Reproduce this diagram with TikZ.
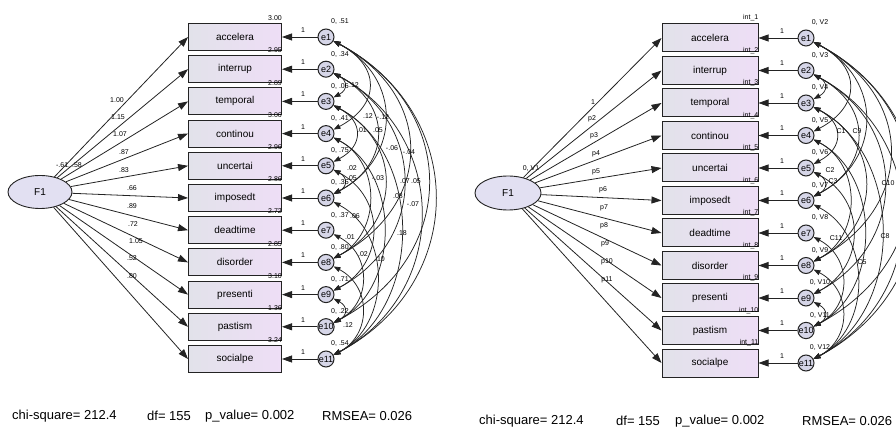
\documentclass[tikz,border=0pt]{standalone}
\usepackage{fontspec}
\setmainfont{Liberation Sans}
\usetikzlibrary{shapes.geometric,arrows.meta}
\definecolor{line}{RGB}{35,35,35}
\definecolor{boxl}{RGB}{226,226,234}
\definecolor{boxr}{RGB}{238,222,246}
\definecolor{latfill}{RGB}{226,224,242}
\definecolor{errfill}{RGB}{214,214,232}
\begin{document}
\begin{tikzpicture}[x=1pt,y=-1pt]
\tikzstyle{every node}+=[inner sep=0pt]
\tikzstyle{lat}=[draw=line,ellipse,fill=latfill,minimum width=64pt,minimum height=33pt,line width=0.9pt,font=\fontsize{10}{12}\selectfont]
\tikzstyle{obs}=[draw=line,rectangle,left color=boxl,right color=boxr,minimum width=93pt,minimum height=27pt,line width=1pt,font=\fontsize{10}{12}\selectfont]
\tikzstyle{err}=[draw=line,circle,fill=errfill,minimum size=16pt,line width=1pt,font=\fontsize{9}{10}\selectfont]
\tikzstyle{lbl}=[font=\fontsize{7}{8}\selectfont]
\tikzstyle{fitline}=[anchor=west,font=\fontsize{13}{15}\selectfont]
\tikzstyle{load}=[draw=line,line width=0.8pt,-{Triangle[length=10pt,width=7pt]}]
\tikzstyle{cov}=[draw=line,line width=0.75pt,{Triangle[length=7pt,width=5pt]}-{Triangle[length=7pt,width=5pt]}]
\useasboundingbox (0,0) rectangle (896,427);

\node[lat] (fa) at (40,192) {F1};
\node[lbl] (vfa) at (69,166) {-.61, .58};
\foreach \k/\n in {1/accelera,2/interrup,3/temporal,4/continou,5/uncertai,6/imposedt,7/deadtime,8/disorder,9/presenti,10/pastism,11/socialpe}{
  \node[obs] (ba\k) at (235,{37+32.2*(\k-1)}) {\n};
  \node[err] (ea\k) at (326,{37+32.2*(\k-1)}) {e\k};
  \draw[load] (fa) -- (ba\k.west);
  \draw[load] (ea\k) -- (ba\k.east);
  \node[lbl] (oa\k) at (303,{30+32.2*(\k-1)}) {1};
}
\foreach \k/\v in {1/3.00,2/2.95,3/2.89,4/3.06,5/2.96,6/2.86,7/2.72,8/2.85,9/3.10,10/1.36,11/3.24}
  \node[lbl,anchor=south east] (ia\k) at ([yshift=2pt]ba\k.north east) {\v};
\foreach \k/\v/\x/\y in {1/1.00/117/100,2/1.15/118/117,3/1.07/120/134,4/.87/124/152,5/.83/124/170,6/.66/132/188,7/.89/132/206,8/.72/133/224,9/1.05/136/241,10/.52/132/258,11/.80/132/276}
  \node[lbl] (la\k) at (\x,\y) {\v};
\foreach \i/\j/\l in {1/11/1.25,1/10/1.3,2/11/1.2,1/8/1.35,2/9/1.25,3/11/1.05,3/8/1.3,4/10/1.05,5/9/1.25,2/6/1.4,6/11/1.1,1/4/1.55,7/10/1.25,5/6/1.7,2/3/1.7,9/10/1.7,1/6/1.3,4/8/1.15,3/5/1.55,8/11/1.25}
  \draw[cov] (ea\i) to[out=-28,in=28,looseness=\l] (ea\j);
\foreach \k/\v in {1/{0, .51},2/{0, .34},3/{0, .06},4/{0, .41},5/{0, .75},6/{0, .35},7/{0, .37},8/{0, .80},9/{0, .71},10/{0, .22},11/{0, .54}}
  \node[lbl] (va\k) at ([shift={(14,-15)}]ea\k) {\v};
\foreach \k/\v/\x/\y in {1/.12/354/85,2/.12/368/116,3/-.12/383/117,4/.01/362/130,5/.05/378/130,6/-.06/392/148,7/-.04/409/152,8/.02/352/168,9/.05/352/178,10/-.03/378/178,11/.07/405/181,12/.05/416/181,13/.08/398/196,14/-.07/413/204,15/.06/355/216,16/.01/350/237,17/.18/402/233,18/.02/363/254,19/.10/380/259,20/.12/348/325}
  \node[lbl] (ca\k) at (\x,\y) {\v};
\node[fitline] (chia) at (12,416) {chi-square= 212.4};
\node[fitline] (dfa) at (147,416) {df= 155};
\node[fitline] (pa) at (205,416) {p\_value= 0.002};
\node[fitline] (ra) at (322,416) {RMSEA= 0.026};

\node[lat,minimum width=66pt,minimum height=34pt] (fb) at (508,193) {F1};
\node[lbl] (vfb) at (531,169) {0, V1};
\foreach \k/\n in {1/accelera,2/interrup,3/temporal,4/continou,5/uncertai,6/imposedt,7/deadtime,8/disorder,9/presenti,10/pastism,11/socialpe}{
  \node[obs,minimum width=96pt,minimum height=28pt] (bb\k) at (710,{38+32.5*(\k-1)}) {\n};
  \node[err] (eb\k) at (806,{38+32.5*(\k-1)}) {e\k};
  \draw[load] (fb) -- (bb\k.west);
  \draw[load] (eb\k) -- (bb\k.east);
  \node[lbl] (ob\k) at (782,{31+32.5*(\k-1)}) {1};
  \node[lbl,anchor=south east] (ib\k) at ([yshift=2pt]bb\k.north east) {int\_\k};
}
\foreach \k/\v/\x/\y in {1/1/593/102,2/p2/592/119,3/p3/594/136,4/p4/596/154,5/p5/596/172,6/p6/603/190,7/p7/604/208,8/p8/604/226,9/p9/605/244,10/p10/607/262,11/p11/607/280}
  \node[lbl] (lb\k) at (\x,\y) {\v};
\foreach \i/\j/\l in {1/11/1.25,1/10/1.3,2/11/1.2,1/8/1.35,2/9/1.25,3/11/1.05,3/8/1.3,4/10/1.05,5/9/1.25,2/6/1.4,6/11/1.1,1/4/1.55,7/10/1.25,5/6/1.7,2/3/1.7,9/10/1.7,1/6/1.3,4/8/1.15,3/5/1.55,8/11/1.25}
  \draw[cov] (eb\i) to[out=-28,in=28,looseness=\l] (eb\j);
\foreach \k in {1,...,11}{
  \pgfmathtruncatemacro\m{\k+1}
  \node[lbl] (vb\k) at ([shift={(14,-15)}]eb\k) {0, V\m};
}
\foreach \k/\v/\x/\y in {1/C1/841/131,2/C9/857/131,3/C2/830/170,4/C3/833/181,5/C10/888/183,6/C11/836/238,7/C8/885/236,8/C5/862/262}
  \node[lbl] (cb\k) at (\x,\y) {\v};
\node[fitline] (chib) at (479,421) {chi-square= 212.4};
\node[fitline] (dfb) at (616,421) {df= 155};
\node[fitline] (pb) at (675,421) {p\_value= 0.002};
\node[fitline] (rb) at (802,421) {RMSEA= 0.026};
\end{tikzpicture}
\end{document}
